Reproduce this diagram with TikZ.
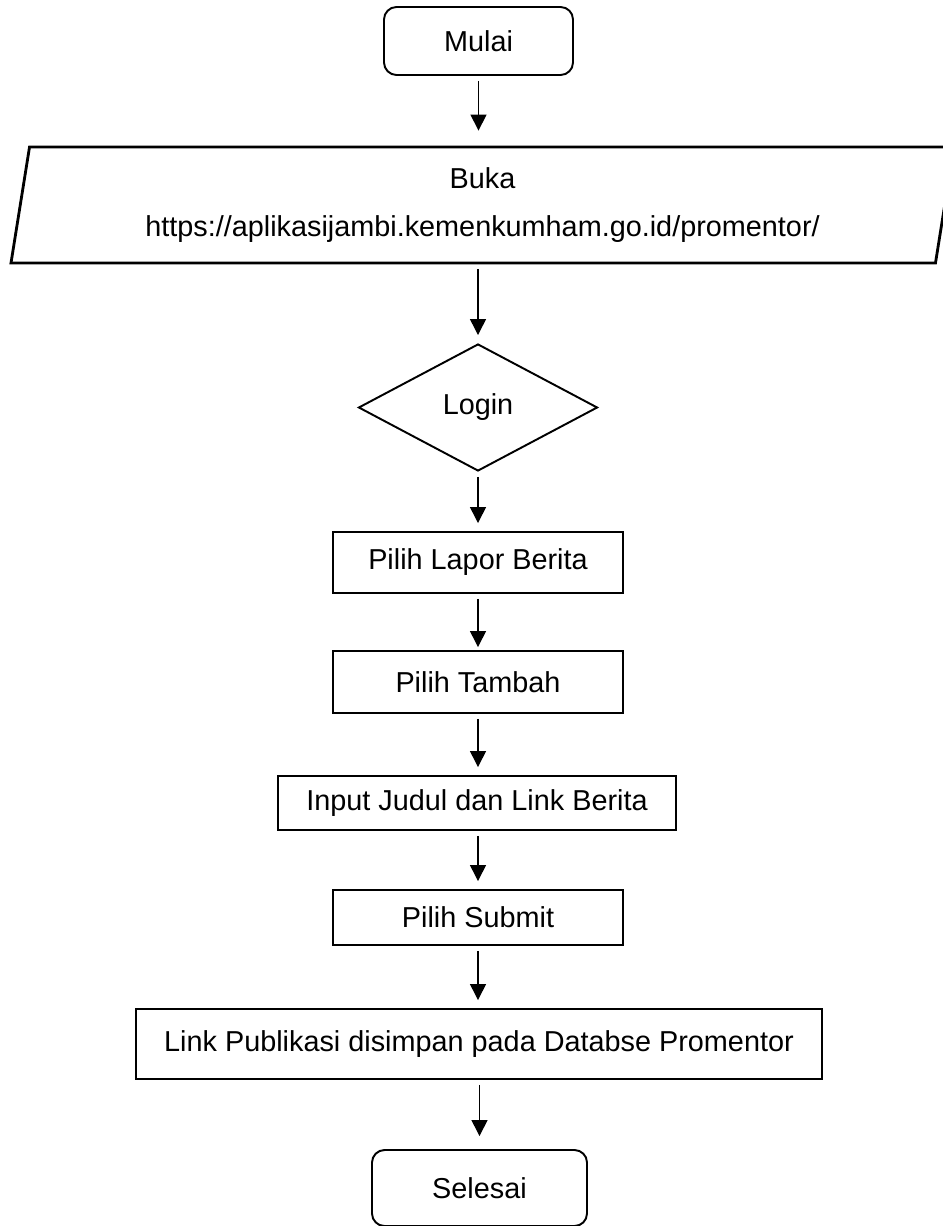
\documentclass[tikz,border=0pt]{standalone}
\usepackage{fontspec}
\setmainfont{Liberation Sans}
\usetikzlibrary{shapes.geometric,arrows.meta}

\tikzset{
  proses/.style={draw,line width=1.1pt,minimum width=5.8cm,minimum height=1.22cm,inner sep=0pt},
  terminal/.style={proses,rounded corners=0.25cm},
  masukan/.style={draw,trapezium,trapezium left angle=76,trapezium right angle=104,
    trapezium stretches body,minimum width=18.86cm,minimum height=2.32cm,
    line width=1.6pt,inner sep=0pt,align=center},
  keputusan/.style={draw,diamond,line width=1.1pt,minimum width=4.78cm,minimum height=2.54cm,inner sep=0pt},
  panah/.style={->,line width=0.8pt,shorten <=0.1cm,shorten >=0.16cm}
}

\begin{document}
\begin{tikzpicture}[>={Triangle[length=0.32cm,width=0.32cm]},font=\fontsize{16.4}{27}\selectfont]
\useasboundingbox (0,0) rectangle (18.86,-24.52);

\node[terminal,minimum width=3.78cm,minimum height=1.36cm] (mulai) at (9.57,-0.82) {Mulai};
\node[masukan] (buka) at (9.65,-4.10) {Buka\\https://aplikasijambi.kemenkumham.go.id/promentor/};
\node[keputusan] (login) at (9.56,-8.15) {Login};
\node[proses] (lapor) at (9.56,-11.25) {Pilih Lapor Berita};
\node[proses,minimum height=1.24cm] (tambah) at (9.56,-13.64) {Pilih Tambah};
\node[proses,minimum width=7.96cm,minimum height=1.08cm] (judul) at (9.54,-16.06) {Input Judul dan Link Berita};
\node[proses,minimum height=1.1cm] (submit) at (9.56,-18.35) {Pilih Submit};
\node[proses,minimum width=13.72cm,minimum height=1.4cm] (simpan) at (9.58,-20.88) {Link Publikasi disimpan pada Databse Promentor};
\node[terminal,minimum width=4.3cm,minimum height=1.52cm] (selesai) at (9.59,-23.76) {Selesai};

\draw[panah,shorten >=0.3cm] (mulai) -- (mulai |- buka.north);
\draw[panah] (buka.south -| login) -- (login);
\draw[panah] (login) -- (lapor);
\draw[panah,shorten >=0.06cm] (lapor) -- (tambah);
\draw[panah] (tambah) -- (tambah |- judul.north);
\draw[panah] (judul.south -| submit) -- (submit);
\draw[panah] (submit) -- (submit |- simpan.north);
\draw[panah,shorten >=0.26cm] (simpan.south -| selesai) -- (selesai);
\end{tikzpicture}
\end{document}
